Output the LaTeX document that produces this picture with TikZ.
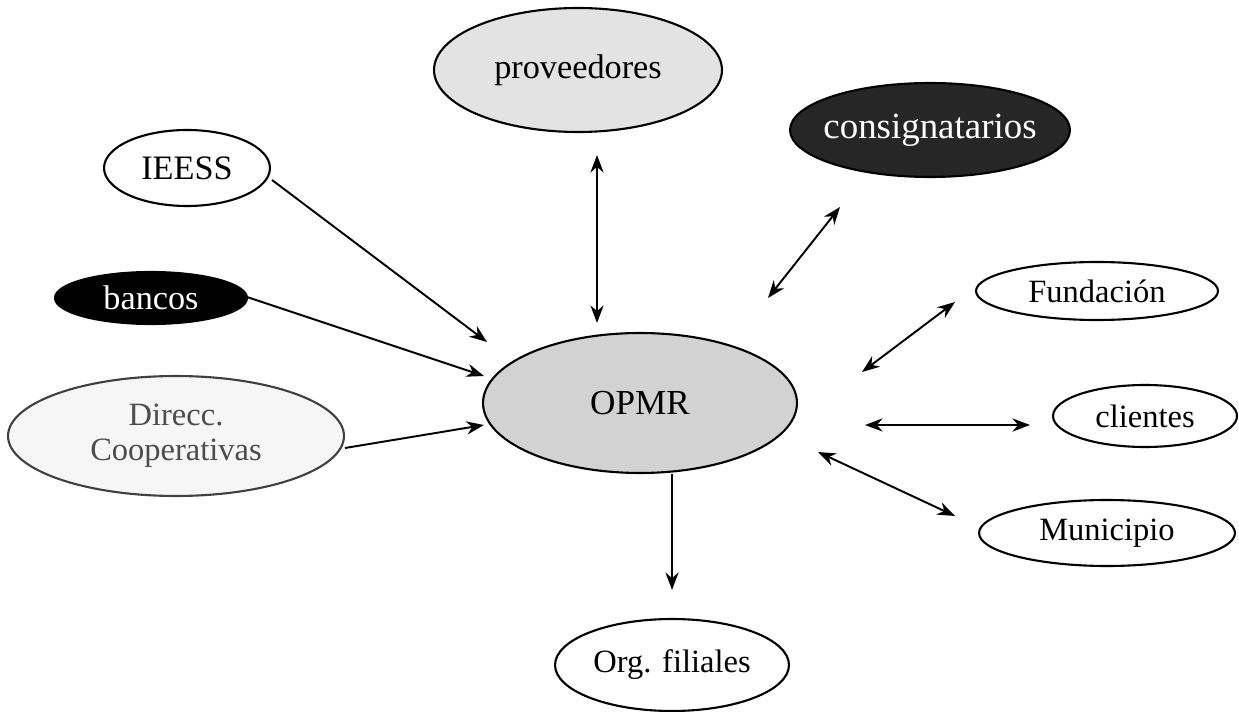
\documentclass[tikz,border=0pt]{standalone}
\usepackage{fontspec}
\setmainfont{Liberation Serif}
\usetikzlibrary{shapes.geometric,arrows.meta}
\tikzset{
  oval/.style={ellipse, draw=black, line width=1.2pt, inner sep=0pt, align=center,
    font=\fontsize{18.5}{20}\selectfont},
  arr/.style={line width=1.1pt, -{Stealth[length=10pt,width=7.5pt]}},
  darr/.style={line width=1.1pt, {Stealth[length=10pt,width=7.5pt]}-{Stealth[length=10pt,width=7.5pt]}},
}
\begin{document}
\begin{tikzpicture}[x=0.02cm,y=-0.02cm]
\useasboundingbox (0,0) rectangle (1239,712);
% nodes
\node[oval, fill=gray!22, minimum width=5.76cm, minimum height=2.48cm,
  font=\fontsize{19.5}{21}\selectfont] (prov) at (578,70) {proveedores};
\node[oval, fill=black!85, text=white, minimum width=5.6cm, minimum height=1.88cm,
  inner xsep=-25pt, font=\fontsize{21}{23}\selectfont] (cons) at (930,130) {consignatarios};
\node[oval, fill=white, minimum width=3.32cm, minimum height=1.52cm,
  font=\fontsize{19.5}{21}\selectfont] (ieess) at (187,168) {IEESS};
\node[oval, fill=black, text=white, minimum width=3.84cm, minimum height=1.04cm,
  font=\fontsize{19.5}{21}\selectfont] (bancos) at (151,298) {bancos};
\node[oval, draw=black!75, fill=gray!7, text=black!70, minimum width=6.72cm, minimum height=2.4cm] (direcc) at (176,436) {Direcc.\\Cooperativas};
\node[oval, fill=gray!35, minimum width=6.28cm, minimum height=2.8cm,
  font=\fontsize{20}{22}\selectfont] (opmr) at (640,403) {OPMR};
\node[oval, fill=white, minimum width=4.84cm, minimum height=1.16cm] (fund) at (1097,291) {Fundación};
\node[oval, fill=white, minimum width=3.68cm, minimum height=1.24cm] (cli) at (1145,416) {clientes};
\node[oval, fill=white, minimum width=5.12cm, minimum height=1.32cm] (muni) at (1107,533) {Municipio};
\node[oval, fill=white, minimum width=4.68cm, minimum height=1.84cm] (org) at (672,665) {Org. filiales};
% connector end points
\coordinate (ieA) at (272,180); \coordinate (ieB) at (487,342);
\coordinate (baA) at (247,297); \coordinate (baB) at (484,376);
\coordinate (diA) at (345,448); \coordinate (diB) at (484,425);
\coordinate (prA) at (597,155); \coordinate (prB) at (597,323);
\coordinate (coA) at (840,207); \coordinate (coB) at (768,298);
\coordinate (fuA) at (955,302); \coordinate (fuB) at (862,372);
\coordinate (clA) at (1030,425); \coordinate (clB) at (865,425);
\coordinate (muA) at (955,516); \coordinate (muB) at (818,452);
\coordinate (orA) at (672,474); \coordinate (orB) at (672,590);
% connectors
\draw[arr] (ieA) -- (ieB);
\draw[arr] (baA) -- (baB);
\draw[arr] (diA) -- (diB);
\draw[darr] (prA) -- (prB);
\draw[darr] (coA) -- (coB);
\draw[darr] (fuA) -- (fuB);
\draw[darr] (clA) -- (clB);
\draw[darr] (muA) -- (muB);
\draw[arr] (orA) -- (orB);
\end{tikzpicture}
\end{document}
